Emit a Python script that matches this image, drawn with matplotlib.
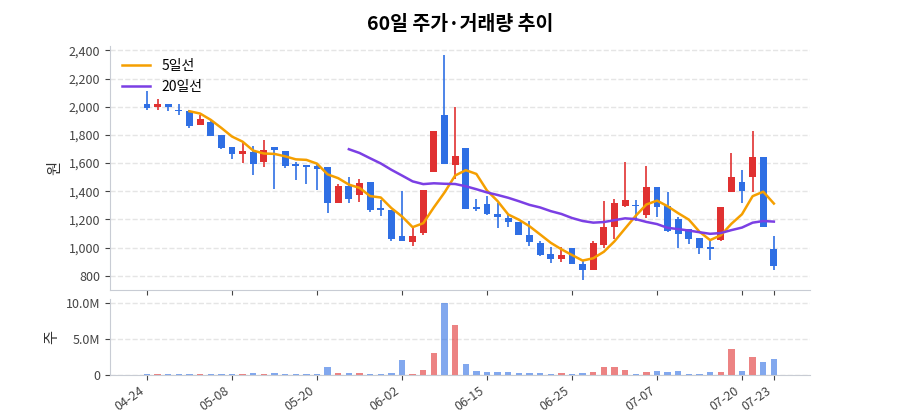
import numpy as np
import pandas as pd
from matplotlib import pyplot as plt
from matplotlib.ticker import FuncFormatter

plt.rcParams['font.family'] = ['Noto Sans CJK KR', 'DejaVu Sans']

# OHLC values, one per trading day
opens = [2016, 1997, 2023, 1977, 1967, 1867, 1894, 1802, 1717, 1661,
         1681, 1605, 1712, 1683, 1591, 1583, 1579, 1574, 1314, 1440,
         1375, 1469, 1280, 1265, 1085, 1039, 1105, 1537, 1938, 1584,
         1707, 1287, 1306, 1241, 1207, 1183, 1090, 1032, 952, 918,
         1000, 886, 842, 1020, 1149, 1294, 1302, 1231, 1430, 1292,
         1202, 1129, 1068, 1003, 1056, 1394, 1469, 1503, 1644, 988]
highs = [2113, 2052, 2023, 2023, 1975, 1943, 1899, 1802, 1717, 1741,
         1720, 1766, 1717, 1683, 1608, 1583, 1591, 1574, 1450, 1501,
         1486, 1469, 1340, 1265, 1404, 1141, 1406, 1827, 2369, 2000,
         1707, 1345, 1365, 1316, 1231, 1183, 1187, 1044, 1007, 1007,
         1000, 905, 1049, 1328, 1348, 1610, 1336, 1579, 1430, 1394,
         1214, 1129, 1068, 1044, 1287, 1671, 1552, 1829, 1644, 1085]
lows = [1980, 1975, 1967, 1938, 1851, 1867, 1795, 1700, 1627, 1603,
        1513, 1574, 1413, 1562, 1477, 1450, 1409, 1243, 1314, 1314,
        1321, 1255, 1224, 1049, 1049, 1012, 1090, 1537, 1591, 1486,
        1272, 1263, 1231, 1136, 1146, 1088, 1012, 942, 891, 898,
        884, 769, 842, 1000, 1063, 1287, 1190, 1209, 1214, 1112,
        1000, 1025, 952, 913, 1044, 1394, 1319, 1394, 1149, 838]
closes = [1992, 2019, 1997, 1967, 1865, 1911, 1795, 1710, 1661, 1683,
          1593, 1693, 1695, 1576, 1576, 1574, 1559, 1314, 1440, 1348,
          1460, 1265, 1265, 1064, 1049, 1081, 1406, 1827, 1591, 1652,
          1272, 1272, 1238, 1214, 1178, 1088, 1039, 947, 918, 947,
          884, 842, 1029, 1149, 1318, 1340, 1292, 1430, 1287, 1117,
          1093, 1064, 1000, 991, 1287, 1501, 1404, 1642, 1149, 867]
volumes_m = [0.02, 0.02, 0.02, 0.02, 0.02, 0.02, 0.02, 0.02, 0.02, 0.02,
             0.2, 0.1, 0.2, 0.02, 0.02, 0.02, 0.1, 1.05, 0.2, 0.2,
             0.2, 0.1, 0.1, 0.2, 2.05, 0.1, 0.65, 3.0, 10.0, 6.9,
             1.5, 0.5, 0.3, 0.3, 0.3, 0.2, 0.2, 0.2, 0.1, 0.2,
             0.1, 0.2, 0.3, 1.1, 1.05, 0.65, 0.05, 0.3, 0.55, 0.3,
             0.5, 0.05, 0.02, 0.35, 0.3, 3.5, 0.5, 2.5, 1.75, 2.2]
tick_idx = [0, 8, 16, 24, 32, 40, 48, 56, 59]
tick_labels = ['04-24', '05-08', '05-20', '06-02', '06-15', '06-25', '07-07', '07-20', '07-23']

RED = '#e03131'
BLUE = '#2f6fe4'

df = pd.DataFrame({'o': opens, 'h': highs, 'l': lows, 'c': closes, 'v': volumes_m})
ma5 = df['c'].rolling(5).mean()
ma20 = df['c'].rolling(20).mean()
x = np.arange(len(df))
up = df['c'] >= df['o']
colors = [RED if u else BLUE for u in up]

fig = plt.figure(figsize=(9, 4.2), dpi=100)
ax = fig.add_axes([0.122, 0.31, 0.778, 0.58])
axv = fig.add_axes([0.122, 0.108, 0.778, 0.18], sharex=ax)

ax.vlines(x, df['l'], df['h'], colors=colors, linewidth=1.2, zorder=2)
body_bottom = np.minimum(df['o'], df['c'])
body_h = np.maximum(np.abs(df['c'] - df['o']), 6)
ax.bar(x, body_h, bottom=body_bottom, width=0.65, color=colors, zorder=3)
ax.plot(x, ma5, color='#f59f00', linewidth=1.8, label='5일선', zorder=4)
ax.plot(x, ma20, color='#7b3fe4', linewidth=1.8, label='20일선', zorder=4)

ax.set_ylim(700, 2430)
ax.set_yticks(range(800, 2401, 200))
ax.yaxis.set_major_formatter(FuncFormatter(lambda v, p: f'{int(v):,}'))
ax.set_ylabel('원', fontsize=11, color='#333')
ax.legend(loc='upper left', frameon=False, fontsize=10)
ax.set_title('60일 주가·거래량 추이', fontsize=14, fontweight='bold', pad=12)
plt.setp(ax.get_xticklabels(), visible=False)

axv.bar(x, df['v'], width=0.6, color=colors, alpha=0.6)
axv.set_ylim(0, 10.5)
axv.set_yticks([0, 5, 10])
axv.set_yticklabels(['0', '5.0M', '10.0M'])
axv.set_ylabel('주', fontsize=11, color='#333')
axv.set_xticks(tick_idx)
axv.set_xticklabels(tick_labels, rotation=35, ha='right')
axv.set_xlim(-3.5, 62.4)

for a in (ax, axv):
    a.grid(axis='y', color='#e5e5e5', linestyle='--', linewidth=1)
    a.set_axisbelow(True)
    for s in ('top', 'right'):
        a.spines[s].set_visible(False)
    a.spines['left'].set_color('#c8ccd4')
    a.spines['bottom'].set_color('#c8ccd4')
    a.tick_params(colors='#444', labelsize=9)

fig.savefig('out.png')
